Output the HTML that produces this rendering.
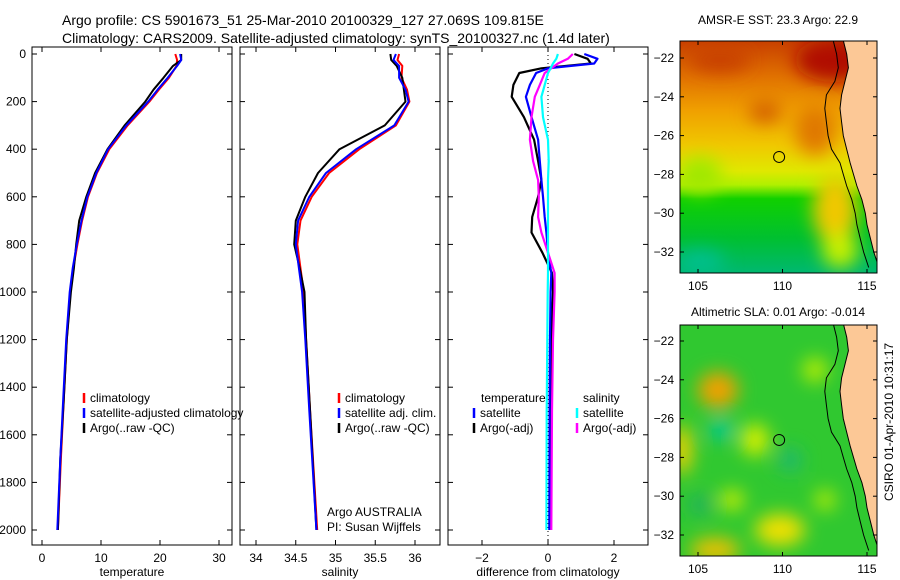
<!DOCTYPE html>
<html><head><meta charset="utf-8"><style>
body{margin:0;background:#fff;}
svg{display:block;font-family:"Liberation Sans",sans-serif;}
</style></head><body>
<svg id="fig" width="900" height="580" viewBox="0 0 900 580">
<defs>
<linearGradient id="sstg" x1="0" y1="0" x2="0" y2="1">
<stop offset="0" stop-color="#c84000"/><stop offset="0.15" stop-color="#e07000"/><stop offset="0.3" stop-color="#f0a000"/>
<stop offset="0.45" stop-color="#f0c800"/><stop offset="0.56" stop-color="#e0e800"/><stop offset="0.62" stop-color="#b0f000"/>
<stop offset="0.68" stop-color="#10d000"/><stop offset="0.85" stop-color="#00c030"/><stop offset="1" stop-color="#00b870"/></linearGradient>
<filter id="bl" x="-50%" y="-50%" width="200%" height="200%"><feGaussianBlur stdDeviation="9"/></filter>
<clipPath id="c1"><rect x="680" y="41" width="197" height="232"/></clipPath>
<clipPath id="c2"><rect x="680" y="325" width="197" height="231"/></clipPath>
</defs>
<g id="root"></g>
</svg>
<script>
// ---- data ----
const tDepth=[0,25,50,100,150,200,300,400,500,600,700,800,900,1000,1200,1450,1700,2000];
const tClim=[22.6,22.9,22.8,21.5,19.8,18.2,14.5,11.4,9.3,7.8,6.8,6.0,5.3,4.8,4.2,3.7,3.2,2.7];
const tSat=[23.4,23.6,22.9,21.3,19.6,18.0,14.3,11.2,9.2,7.7,6.7,5.9,5.2,4.7,4.1,3.6,3.1,2.6];
const tArgo=[23.6,23.6,22.2,20.6,18.9,17.5,14.0,11.1,9.0,7.5,6.3,5.8,5.4,4.9,4.2,3.7,3.1,2.7];
const sDepth=[0,25,50,100,150,200,300,400,500,600,700,800,900,1000,1200,1500,2000];
const sClim=[35.8,35.78,35.84,35.83,35.9,35.93,35.76,35.3,34.92,34.7,34.56,34.52,34.56,34.6,34.63,34.68,34.77];
const sSat=[35.76,35.73,35.8,35.8,35.88,35.92,35.74,35.26,34.88,34.67,34.53,34.5,34.54,34.58,34.62,34.67,34.76];
const sArgo=[35.69,35.7,35.77,35.84,35.86,35.88,35.62,35.05,34.78,34.62,34.5,34.48,34.55,34.61,34.63,34.68,34.76];
const dDepth=[0,20,40,60,80,130,180,265,360,450,530,600,685,750,835,920,1000,1200,1500,2000];
const dTsat=[1.1,1.5,1.4,0.0,-0.36,-0.55,-0.67,-0.5,-0.3,-0.25,-0.2,-0.15,-0.1,-0.05,0.0,0.1,0.08,0.06,0.05,0.04];
const dTargo=[0.8,1.2,1.3,-0.2,-0.87,-1.05,-1.1,-0.73,-0.42,-0.3,-0.2,-0.3,-0.48,-0.5,-0.17,0.12,0.15,0.1,0.08,0.05];
const dSsat=[0.3,0.25,0.15,0.08,0.0,-0.1,-0.2,-0.15,0.0,0.02,0.0,0.0,0.0,0.0,0.0,0.0,-0.01,-0.02,-0.04,-0.05];
const dSargo=[0.75,0.6,0.3,0.1,-0.1,-0.25,-0.4,-0.5,-0.55,-0.45,-0.3,-0.28,-0.3,-0.2,0.0,0.2,0.2,0.15,0.12,0.1];
const depthTicks=[0,200,400,600,800,1000,1200,1400,1600,1800,2000];
const tTicks=[0,10,20,30];
const sTicks=[34,34.5,35,35.5,36];
const dTicks=[-2,0,2];
const lonTicks=[105,110,115];
const latTicks=[-22,-24,-26,-28,-30,-32];
const coastLon=[113.6,113.8,113.9,113.7,113.5,113.4,113.5,113.6,113.8,114.0,114.2,114.4,114.7,114.9,115.0,115.2,115.4,115.7];
const coastLat=[-21.1,-21.8,-22.5,-23.2,-23.9,-24.6,-25.3,-26.0,-26.7,-27.4,-28.0,-28.6,-29.3,-30.0,-30.6,-31.3,-32.0,-32.8];
const sstArgo=22.9, slaArgo=-0.014, floatLon=109.8, floatLat=-27.1;

const NS='http://www.w3.org/2000/svg';
const root=document.getElementById('root');
function el(tag,attrs,parent){const e=document.createElementNS(NS,tag);for(const k in attrs)e.setAttribute(k,attrs[k]);(parent||root).appendChild(e);return e;}
function txt(s,x,y,attrs,parent){const t=el('text',Object.assign({x:x,y:y,'font-size':12,fill:'#000'},attrs||{}),parent);t.textContent=s;return t;}
const yD=d=>54+d*0.238;
const xT=v=>42+v*5.9;
const xS=v=>256+(v-34)*79.5;
const xDf=v=>548+v*33;

function panel(name,x0,x1,xf,ticks,label,fmt){
  const g=el('g',{});
  
  
  el('rect',{x:x0,y:47,width:x1-x0,height:498,fill:'none',stroke:'#000','stroke-width':1},g);
  ticks.forEach(t=>{const x=xf(t);el('line',{x1:x,y1:545,x2:x,y2:540,stroke:'#000'},g);el('line',{x1:x,y1:47,x2:x,y2:52,stroke:'#000'},g);
    const tl=txt(fmt(t),x,562,{'text-anchor':'middle'},g);});
  depthTicks.forEach(d=>{const y=yD(d);el('line',{x1:x0,y1:y,x2:x0+5,y2:y,stroke:'#000'},g);el('line',{x1:x1,y1:y,x2:x1-5,y2:y,stroke:'#000'},g);});
  const xl=txt(label,(x0+x1)/2,576,{'text-anchor':'middle'},g);
  
  
  return g;
}
function line(g,xs,ys,xf,color,w,name){
  const pts=xs.map((v,i)=>xf(v).toFixed(1)+','+yD(ys[i]).toFixed(1)).join(' ');
  const p=el('polyline',{points:pts,fill:'none',stroke:color,'stroke-width':w,'stroke-linejoin':'round'},g);
  
  
}
const t1=txt('Argo profile: CS 5901673_51 25-Mar-2010 20100329_127 27.069S 109.815E',62,25,{'font-size':14});


const t2=txt('Climatology: CARS2009. Satellite-adjusted climatology: synTS_20100327.nc (1.4d later)',62,43,{'font-size':14});



const p1=panel('temperature-panel',32,232,xT,tTicks,'temperature',String);
depthTicks.forEach(d=>{const l=txt(String(d),26,yD(d)+4,{'text-anchor':'end'});});
line(p1,tClim,tDepth,xT,'#f00',2,'temperature-climatology-line');
line(p1,tArgo,tDepth,xT,'#000',2,'temperature-argo-line');
line(p1,tSat,tDepth,xT,'#0000ff',2,'temperature-satellite-line');
const p2=panel('salinity-panel',240,440,xS,sTicks,'salinity',v=>String(v));
line(p2,sClim,sDepth,xS,'#f00',2,'salinity-climatology-line');
line(p2,sArgo,sDepth,xS,'#000',2,'salinity-argo-line');
line(p2,sSat,sDepth,xS,'#0000ff',2,'salinity-satellite-line');
const p3=panel('difference-panel',448,648,xDf,dTicks,'difference from climatology',v=>v<0?'\u2212'+(-v):String(v));
el('line',{x1:xDf(0),y1:47,x2:xDf(0),y2:545,stroke:'#000','stroke-dasharray':'1,3'},p3);
line(p3,dTargo,dDepth,xDf,'#000',2.2,'temp-diff-argo-line');
line(p3,dTsat,dDepth,xDf,'#0000ff',2.2,'temp-diff-satellite-line');
line(p3,dSargo,dDepth,xDf,'#ff00ff',2.2,'sal-diff-argo-line');
line(p3,dSsat,dDepth,xDf,'#00ffff',2.2,'sal-diff-satellite-line');

function leg(g,x,y,color,label){const e=el('g',{},g);
  el('line',{x1:x,y1:y-9,x2:x,y2:y+1,stroke:color,'stroke-width':2.5},e);txt(label,x+6,y,{},e);}
const lg1=el('g',{});
leg(lg1,84,402,'#f00','climatology');leg(lg1,84,417,'#0000ff','satellite-adjusted climatology');leg(lg1,84,432,'#000','Argo(..raw -QC)');
const lg2=el('g',{});
leg(lg2,339,402,'#f00','climatology');leg(lg2,339,417,'#0000ff','satellite adj. clim.');leg(lg2,339,432,'#000','Argo(..raw -QC)');
const lg3=el('g',{});
txt('temperature',481,402,{},lg3);txt('salinity',583,402,{},lg3);
leg(lg3,474,417,'#0000ff','satellite');leg(lg3,474,432,'#000','Argo(-adj)');
leg(lg3,577,417,'#00ffff','satellite');leg(lg3,577,432,'#ff00ff','Argo(-adj)');
const ai=txt('Argo AUSTRALIA',327,516,{});
const pi=txt('PI: Susan Wijffels',327,531,{});

function map(name,y0,y1,latTop,clip,title,titleY,bg){
  const lonX=l=>698+(l-105)*16.9;
  const latY=l=>(latTop)+(-22-l)*19.4;
  const g=el('g',{'clip-path':'url(#'+clip+')'});
  
  
  bg(g,lonX,latY);
  const land=coastLon.map((l,i)=>lonX(l).toFixed(1)+','+latY(coastLat[i]).toFixed(1)).join(' ');
  const lp=el('polygon',{points:land+' 880,'+(y1+2)+' 880,'+(y0-2),fill:'#fcc896',stroke:'#000','stroke-width':1},g);
  
  
  const shelf=coastLon.map((l,i)=>lonX(l-0.6-(i>3&&i<9?0.3:0)).toFixed(1)+','+latY(coastLat[i]).toFixed(1)).join(' ');
  el('polyline',{points:shelf,fill:'none',stroke:'#000','stroke-width':1},g);
  const c=el('circle',{cx:lonX(floatLon),cy:latY(floatLat),r:5.5,fill:'none',stroke:'#000','stroke-width':1});
  
  
  el('rect',{x:680,y:y0,width:197,height:y1-y0,fill:'none',stroke:'#000'});
  lonTicks.forEach(l=>{const x=lonX(l);el('line',{x1:x,y1:y1,x2:x,y2:y1-4,stroke:'#000'});el('line',{x1:x,y1:y0,x2:x,y2:y0+4,stroke:'#000'});txt(String(l),x,y1+17,{'text-anchor':'middle'});});
  latTicks.forEach(l=>{const y=latY(l);el('line',{x1:680,y1:y,x2:684,y2:y,stroke:'#000'});el('line',{x1:877,y1:y,x2:873,y2:y,stroke:'#000'});txt('\u2212'+(-l),674,y+4,{'text-anchor':'end'});});
  const tt=txt(title,778,titleY,{'text-anchor':'middle'});
  
  
}
map('sst-map',41,273,58,'c1','AMSR-E SST: 23.3 Argo: '+sstArgo,24,(g,lx,ly)=>{
  el('rect',{x:680,y:41,width:197,height:232,fill:'url(#sstg)'},g);
  const b=el('g',{filter:'url(#bl)'},g);
  el('ellipse',{cx:835,cy:60,rx:40,ry:22,fill:'#b01000'},b);
  el('ellipse',{cx:720,cy:60,rx:30,ry:12,fill:'#c84000'},b);
  el('ellipse',{cx:765,cy:112,rx:16,ry:10,fill:'#d05800'},b);
  el('ellipse',{cx:815,cy:130,rx:20,ry:25,fill:'#e07800'},b);
  el('ellipse',{cx:700,cy:175,rx:22,ry:18,fill:'#a0e800'},b);
  el('ellipse',{cx:835,cy:210,rx:22,ry:35,fill:'#f0c800'},b);
  el('ellipse',{cx:840,cy:250,rx:18,ry:18,fill:'#c8f000'},b);
  el('ellipse',{cx:700,cy:262,rx:25,ry:12,fill:'#00c090'},b);
});
map('sla-map',325,556,341,'c2','Altimetric SLA: 0.01 Argo: '+slaArgo,316,(g,lx,ly)=>{
  el('rect',{x:680,y:325,width:197,height:231,fill:'#30c830'},g);
  const b=el('g',{filter:'url(#bl)'},g);
  [[718,390,20,18,'#f0a000'],[721,430,12,10,'#00c8a0'],[682,450,10,25,'#f0d000'],[755,440,14,16,'#d8f000'],
   [790,460,12,12,'#20b870'],[732,500,12,10,'#d0f000'],[780,530,25,16,'#f0e000'],[715,550,25,12,'#f0c000'],
   [815,370,12,12,'#c0f000'],[825,500,10,10,'#c0f000'],[700,505,12,10,'#20b060']].forEach(a=>el('ellipse',{cx:a[0],cy:a[1],rx:a[2],ry:a[3],fill:a[4]},b));
});
const cs=txt('CSIRO 01-Apr-2010 10:31:17',893,422,{'text-anchor':'middle',transform:'rotate(-90 893 422)'});


</script>
</body></html>
